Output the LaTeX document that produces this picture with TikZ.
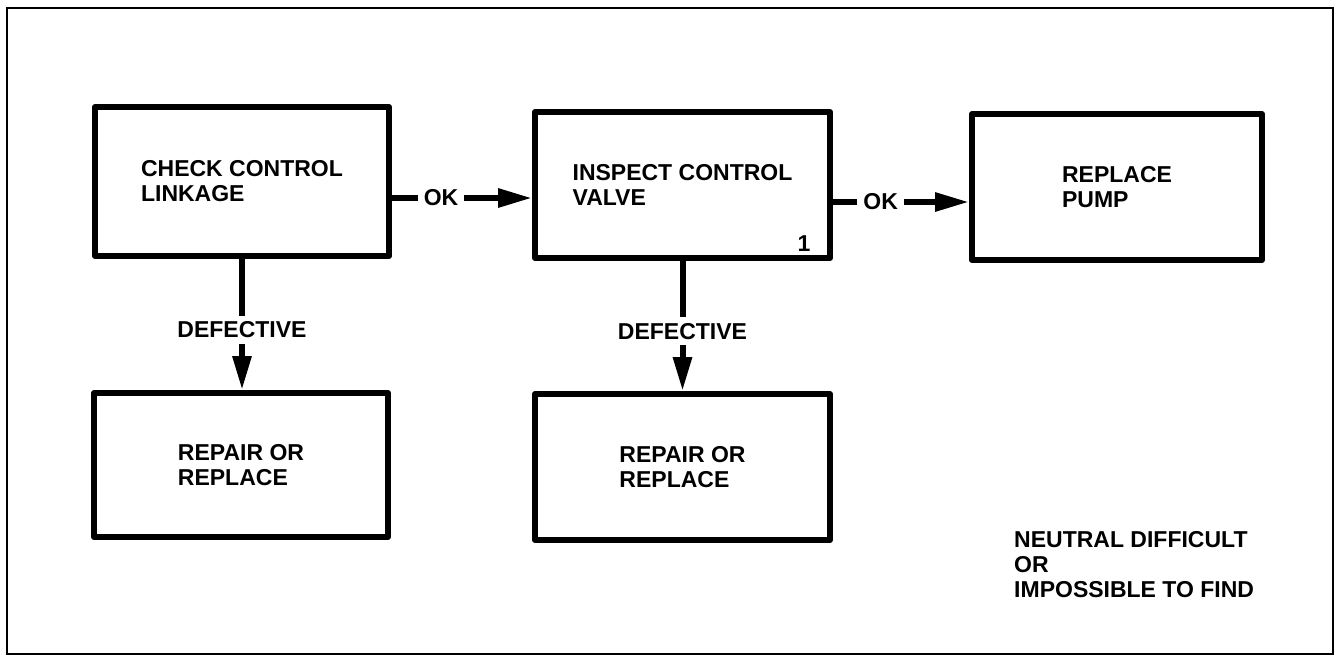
\documentclass[tikz,border=0pt]{standalone}
\usepackage{fontspec}
\setmainfont{Liberation Sans}
\usetikzlibrary{arrows.meta}
\tikzset{
  box/.style={draw, line width=6pt, line join=round, align=left, inner sep=0pt,
    font=\fontsize{23}{25}\selectfont\bfseries},
  conn/.style={line width=6pt, -{Triangle[length=34pt,width=18pt]}},
  lbl/.style={fill=white, font=\fontsize{23}{25}\selectfont\bfseries, inner sep=0pt},
  plain/.style={font=\fontsize{23}{25}\selectfont\bfseries, align=left, inner sep=0pt},
}
\begin{document}
\begin{tikzpicture}[x=1pt,y=-1pt]
\useasboundingbox[fill=white] (0,0) rectangle (1336,656);
\draw[line width=1.6pt] (7,8) rectangle (1333,654);

\node[box, minimum width=294pt, minimum height=149pt] (b1) at (242,181.5) {CHECK CONTROL\\LINKAGE};
\node[box, minimum width=295pt, minimum height=146pt] (b2) at (682.5,185) {INSPECT CONTROL\\VALVE};
\node[box, minimum width=290pt, minimum height=146pt] (b3) at (1117,187) {REPLACE\\PUMP};
\node[box, minimum width=294pt, minimum height=144pt] (b4) at (241,465) {REPAIR OR\\REPLACE};
\node[box, minimum width=295pt, minimum height=146pt] (b5) at (682.5,467) {REPAIR OR\\REPLACE};
\node[plain] (one) at (804,243.5) {1};

\coordinate (ya) at (0,198);
\coordinate (yb) at (0,202);

\draw[conn] (b1.east |- ya) -- node[lbl, pos=0.35, inner xsep=6pt, inner ysep=4pt] (ok1) {OK} (b2.west |- ya);
\draw[conn] (b2.east |- yb) -- node[lbl, pos=0.35, inner xsep=6pt, inner ysep=4pt] (ok2) {OK} (b3.west |- yb);
\draw[conn] (b1.south) -- node[lbl, pos=0.54, inner xsep=2pt, inner ysep=6pt] (d1) {DEFECTIVE} (b1.south |- b4.north);
\draw[conn] (b2.south) -- node[lbl, pos=0.54, inner xsep=2pt, inner ysep=6pt] (d2) {DEFECTIVE} (b2.south |- b5.north);

\node[plain, anchor=north west] (note) at (1014,531) {NEUTRAL DIFFICULT\\OR\\IMPOSSIBLE TO FIND};
\end{tikzpicture}
\end{document}
